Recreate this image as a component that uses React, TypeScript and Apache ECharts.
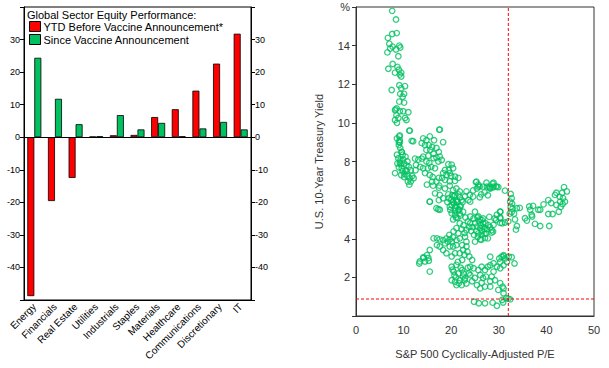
import React, { useEffect, useRef } from "react";
import * as echarts from "echarts";

const sectors = ["Energy", "Financials", "Real Estate", "Utilities", "Industrials", "Staples", "Materials", "Healthcare", "Communications", "Discretionary", "IT"];
const ytdBefore = [-48.8, -19.6, -12.5, 0.2, 0.6, 0.7, 6.2, 8.6, 14.3, 22.6, 31.8];
const sinceVaccine = [24.4, 11.8, 4.0, 0.3, 6.8, 2.4, 4.4, 0.3, 2.7, 4.7, 2.4];
const barTicks = [-50, 40];
const capeNow = 32;
const yieldNow = 0.88;

const capeYield: number[][] = [
  [7.6, 15.8], [8.4, 15.35], [6.7, 14.4], [7.6, 14.6], [8.55, 14.65], [7.0, 14.1], [7.7, 13.95], [7.2, 13.85], [6.6, 13.65],
  [9.1, 14.0], [9.3, 13.9], [8.4, 13.8], [8.9, 13.45], [6.8, 12.8], [7.7, 13.05], [8.7, 12.9], [9.0, 12.75], [9.2, 12.5],
  [9.5, 12.6], [8.2, 12.6], [9.5, 12.4], [7.5, 11.7], [9.1, 11.95], [9.5, 11.8], [10.3, 11.9], [9.3, 11.5], [10.1, 11.5],
  [9.8, 11.35], [9.1, 11.1], [10.1, 11.05], [8.55, 10.75], [8.3, 10.7], [8.2, 10.65], [9.2, 10.6], [9.9, 10.6], [11.0, 10.55],
  [8.5, 10.4], [8.2, 10.15], [8.9, 10.25], [10.3, 10.25], [10.6, 10.15], [8.6, 10.0], [11.3, 9.6], [9.2, 9.35], [8.6, 9.2],
  [9.2, 9.0], [12.0, 9.05], [17.5, 9.65], [9.0, 8.85], [9.3, 8.7], [9.6, 8.5],
  [11.2, 9.6], [17.6, 9.65], [9.1, 9.3], [9.2, 9.1], [9.0, 9.0], [11.7, 9.07], [14.1, 9.2], [14.8, 9.1], [15.5, 9.3], [16.4, 9.1],
  [18.3, 9.0], [13.8, 8.95], [14.5, 8.85], [15.3, 8.85], [16.0, 8.75], [16.9, 8.7], [17.4, 8.5], [15.6, 8.6], [14.8, 8.6],
  [16.3, 8.4], [16.9, 8.2], [17.6, 8.25], [18.0, 8.08], [17.3, 8.0], [16.3, 8.17], [15.2, 8.3], [14.1, 8.25], [13.8, 8.15],
  [13.1, 8.1], [14.8, 8.0], [15.4, 7.93], [15.8, 7.72], [16.6, 7.65], [15.1, 7.65], [14.1, 7.65], [13.5, 7.72], [12.4, 8.15],
  [12.6, 7.82], [19.4, 7.86], [20.1, 7.84], [20.4, 7.65], [19.5, 7.55], [18.7, 7.56], [18.3, 7.4], [19.0, 7.3], [19.7, 7.4],
  [20.0, 7.25], [20.8, 7.22], [21.5, 7.15], [20.8, 7.0], [19.7, 6.98], [18.7, 7.05], [18.1, 7.15], [17.4, 7.15], [15.5, 7.3],
  [14.5, 7.4], [16.1, 7.2], [16.9, 6.96], [16.0, 6.96], [14.9, 6.8], [16.2, 6.75], [17.5, 6.75], [18.7, 6.6], [19.7, 6.75],
  [20.4, 6.52], [21.1, 6.6], [21.8, 6.45], [19.4, 6.3], [20.2, 6.25], [20.8, 6.25], [21.1, 6.0], [21.8, 6.15], [22.2, 6.0],
  [20.4, 5.9], [20.1, 5.75], [21.1, 5.7], [21.5, 5.5], [20.8, 5.45], [21.8, 5.3], [17.4, 6.65], [16.6, 6.35], [17.6, 6.27],
  [18.3, 6.1], [17.4, 6.0], [15.5, 5.92], [16.9, 5.58], [17.6, 5.5], [23.2, 6.45], [23.9, 6.27], [22.9, 6.2], [23.6, 6.0],
  [24.6, 6.18], [25.2, 6.93], [25.7, 6.8], [25.4, 6.6], [26.0, 6.7], [27.5, 6.7], [28.2, 6.6], [28.9, 6.7], [29.6, 6.7],
  [26.3, 6.3], [27.0, 6.4], [27.7, 6.25], [26.0, 6.15], [8.2, 7.4], [8.9, 8.17], [9.6, 8.5], [9.8, 8.35], [10.4, 8.25],
  [10.8, 8.0], [10.1, 7.9], [9.4, 7.85], [11.1, 7.72], [11.5, 7.55], [10.4, 7.55], [9.8, 7.5], [9.0, 7.7], [11.8, 7.25],
  [10.8, 7.25], [11.3, 7.13], [10.1, 7.2], [9.5, 7.3], [11.5, 6.96], [12.1, 7.13], [12.5, 7.55], [8.7, 7.9], [8.6, 8.35],
  [10.9, 6.96], [11.2, 6.8], [9.3, 8.05], [9.9, 8.1], [10.6, 7.8], [9.6, 7.65], [10.2, 7.35], [9.2, 7.95], [10.7, 7.5],
  [15.5, 5.92], [17.3, 5.53], [19.7, 5.66], [20.6, 5.83], [21.3, 5.92], [21.8, 5.66], [20.1, 5.32], [20.8, 5.24], [21.3, 5.08],
  [21.8, 4.8], [21.1, 4.55], [22.2, 4.5], [21.5, 4.28], [20.5, 4.38], [19.6, 4.2], [24.0, 5.92], [25.0, 5.4], [24.0, 5.15],
  [24.7, 5.05], [25.7, 5.15], [26.4, 4.97], [26.7, 4.8], [26.1, 4.55], [25.4, 4.63], [27.0, 4.5], [25.7, 4.28], [26.4, 4.2],
  [27.1, 4.03], [26.1, 3.97], [25.0, 3.85], [27.3, 4.28], [27.7, 4.02], [28.5, 4.45], [28.2, 4.6], [28.9, 4.72], [29.4, 4.97],
  [30.3, 5.06], [30.3, 5.4], [29.6, 5.24], [30.7, 4.8], [22.9, 4.1], [23.2, 3.85], [22.3, 3.67], [23.2, 3.6], [22.5, 3.42],
  [21.8, 3.25], [22.8, 3.17], [23.4, 3.33], [23.8, 3.08], [24.4, 2.9], [22.3, 2.9], [16.3, 4.02], [17.0, 4.02], [17.6, 3.97],
  [18.3, 3.93], [19.0, 4.02], [19.7, 3.97], [20.4, 4.08], [21.1, 3.93], [21.8, 4.02], [19.3, 3.85], [20.1, 3.85], [18.7, 3.76],
  [17.6, 3.6], [17.0, 3.67], [18.3, 3.42], [19.7, 3.6], [20.4, 3.6], [21.1, 3.67], [20.8, 3.25], [20.1, 3.08], [19.0, 3.25],
  [15.5, 3.42], [15.2, 3.0], [14.9, 3.15], [14.1, 3.0], [14.5, 2.82], [13.4, 2.82], [13.3, 2.72], [15.3, 2.86], [15.5, 2.3],
  [14.2, 3.04], [20.1, 2.55], [21.1, 2.65], [20.5, 2.3], [21.5, 2.2], [22.3, 2.38], [22.5, 2.04], [21.8, 1.85], [20.8, 1.77],
  [20.1, 1.85], [21.1, 1.6], [22.2, 1.6], [23.2, 1.68], [22.8, 1.85], [24.0, 2.55], [24.7, 2.47], [25.7, 2.38], [26.4, 2.55],
  [27.1, 2.38], [27.7, 2.55], [26.1, 2.12], [26.7, 1.97], [27.3, 2.04], [26.4, 1.72], [27.1, 1.52], [26.1, 1.43], [28.2, 2.63],
  [28.9, 2.73], [29.6, 2.55], [30.3, 2.8], [30.6, 3.07], [31.3, 2.98], [31.7, 2.8], [31.0, 2.63], [30.3, 2.47], [28.9, 2.3],
  [28.5, 2.04], [28.2, 1.8], [29.2, 1.85], [30.3, 1.7], [31.0, 1.43], [29.9, 1.35], [28.2, 1.52], [25.0, 1.97], [24.4, 1.8],
  [25.4, 1.6], [24.0, 2.12], [31.0, 3.1], [32.7, 3.04], [33.3, 2.72], [24.8, 0.74], [25.8, 0.66], [27.1, 0.66], [28.7, 0.69],
  [29.6, 0.53], [30.7, 0.83], [31.0, 1.18], [30.8, 1.52], [31.6, 0.92], [32.0, 0.9], [30.9, 0.7], [32.4, 0.86],
  [28.9, 6.9], [29.9, 6.67], [28.1, 6.63], [28.7, 6.65], [31.3, 6.49], [32.5, 6.32], [32.7, 6.1], [32.4, 5.92], [32.8, 5.82],
  [32.5, 5.65], [32.9, 5.57], [32.7, 5.38], [33.2, 5.3], [32.3, 5.3], [33.8, 5.58], [34.4, 5.6], [33.4, 5.0], [33.8, 4.66],
  [33.6, 4.47], [35.5, 5.06], [35.9, 4.94], [36.4, 5.67], [37.2, 5.7], [36.6, 5.5], [36.9, 5.24], [37.0, 5.15], [37.6, 4.77],
  [38.3, 5.5], [38.7, 5.5], [39.4, 5.78], [38.7, 4.66], [40.6, 4.66], [40.4, 6.0], [41.0, 5.85], [41.3, 5.28], [40.4, 5.28],
  [42.6, 5.4], [41.8, 6.27], [42.1, 6.38], [42.8, 6.17], [43.3, 6.38], [43.7, 6.67], [44.3, 6.45], [43.5, 6.1], [43.9, 5.92],
  [42.9, 5.92], [42.1, 5.75], [43.0, 5.65], [43.4, 5.8], [30.3, 5.4], [30.3, 5.1], [29.1, 5.05], [28.0, 5.13], [31.3, 4.84],
  [32.0, 4.9], [30.3, 4.82], [28.8, 4.37], [28.5, 4.32], [28.2, 3.07], [31.0, 3.15], [32.1, 3.07], [30.1, 2.98],
  [25.3, 6.96], [25.7, 6.7], [27.4, 6.9], [28.7, 6.85], [28.0, 6.7], [24.6, 6.5], [26.7, 6.7], [29.4, 6.7],
  [24.5, 4.6], [25.0, 4.8], [25.3, 4.4], [25.8, 4.9], [26.2, 4.7], [26.5, 4.4], [26.8, 4.6], [27.2, 4.8], [27.5, 4.5],
  [26.0, 5.0], [25.5, 5.1], [24.8, 4.2], [25.6, 4.1], [26.3, 3.95], [27.0, 4.25], [26.7, 5.05], [27.8, 4.7], [24.2, 4.4],
  [23.8, 4.6], [23.5, 4.9], [23.0, 5.1], [22.6, 4.7], [22.8, 4.3], [23.2, 4.45], [24.0, 4.8],
  [19.2, 5.9], [19.5, 6.1], [20.0, 6.0], [20.6, 6.2], [21.2, 5.9], [21.5, 6.3], [22.0, 5.7], [22.4, 5.9], [21.7, 5.5],
  [20.9, 5.6], [19.8, 5.5], [22.5, 5.4], [21.0, 5.1], [20.4, 5.0], [21.9, 5.2],
  [20.3, 2.4], [21.0, 2.0], [21.6, 1.7], [22.0, 2.5], [22.6, 2.2], [23.5, 2.5], [21.4, 2.8], [20.7, 2.1], [22.9, 1.95], [23.7, 2.2],
];

const RED = "#ff0000";
const GREEN = "#00c060";
const FONT = "'Liberation Sans', Arial, sans-serif";

export default function App() {
  const ref = useRef<HTMLDivElement>(null);
  useEffect(() => {
    if (!ref.current) return;
    const chart = echarts.init(ref.current, null, { renderer: "svg" });
    const hideEnds = (v: number) => (barTicks.includes(v) ? "" : String(v));
    const refLine = (data: number[][]) => ({
      type: "line",
      xAxisIndex: 1,
      yAxisIndex: 2,
      data,
      symbol: "none",
      silent: true,
      z: 3,
      color: RED,
      lineStyle: { color: RED, type: [3, 2], width: 1 },
    });
    chart.setOption({
      animation: false,
      textStyle: { fontFamily: FONT },
      grid: [
        { left: 24, top: 7, width: 227, height: 293, show: true, borderColor: "#000", borderWidth: 1 },
        { left: 356, top: 7, width: 238, height: 309, show: true, borderColor: "#333", borderWidth: 1 },
      ],
      legend: {
        orient: "vertical",
        left: 29,
        top: 21,
        padding: 0,
        itemGap: 2,
        itemWidth: 11,
        itemHeight: 10,
        icon: "rect",
        textStyle: { fontSize: 11, color: "#000", fontFamily: FONT, padding: [0, 0, 0, -2] },
        data: [
          { name: "YTD Before Vaccine Announcement*", itemStyle: { color: RED, borderColor: "#000", borderWidth: 1 } },
          { name: "Since Vaccine Announcement", itemStyle: { color: GREEN, borderColor: "#000", borderWidth: 1 } },
        ],
      },
      graphic: [
        { type: "text", left: 27, top: 9, style: { text: "Global Sector Equity Performance:", fontSize: 11, fill: "#000", fontFamily: FONT } },
      ],
      xAxis: [
        {
          type: "category",
          gridIndex: 0,
          data: sectors,
          axisLine: { onZero: false, lineStyle: { color: "#000" } },
          axisTick: { inside: true, length: 4, lineStyle: { color: "#000" } },
          axisLabel: { rotate: 45, fontSize: 10, color: "#000", margin: 5, interval: 0 },
        },
        {
          type: "value",
          gridIndex: 1,
          min: 0,
          max: 50,
          interval: 10,
          axisLine: { lineStyle: { color: "#333" } },
          axisTick: { show: false },
          splitLine: { show: false },
          axisLabel: { fontSize: 11, color: "#333", margin: 8 },
          name: "S&P 500 Cyclically-Adjusted P/E",
          nameLocation: "middle",
          nameGap: 32,
          nameTextStyle: { fontSize: 11, color: "#333" },
        },
      ],
      yAxis: [
        {
          type: "value",
          gridIndex: 0,
          min: -50,
          max: 40,
          interval: 10,
          axisLine: { show: true, lineStyle: { color: "#000" } },
          axisTick: { show: true, length: 4, lineStyle: { color: "#000" } },
          splitLine: { show: false },
          axisLabel: { fontSize: 9, color: "#000", margin: 4, formatter: hideEnds },
        },
        {
          type: "value",
          gridIndex: 0,
          position: "right",
          min: -50,
          max: 40,
          interval: 10,
          axisLine: { show: true, lineStyle: { color: "#000" } },
          axisTick: { show: true, length: 4, lineStyle: { color: "#000" } },
          splitLine: { show: false },
          axisLabel: { fontSize: 9, color: "#000", margin: 4, formatter: hideEnds },
        },
        {
          type: "value",
          gridIndex: 1,
          min: 0,
          max: 16,
          interval: 2,
          axisLine: { show: true, lineStyle: { color: "#333" } },
          axisTick: { show: true, length: 4, lineStyle: { color: "#333" } },
          splitLine: { show: false },
          axisLabel: { fontSize: 11, color: "#333", margin: 6, formatter: (v: number) => (v === 0 ? "" : v === 16 ? "%" : String(v)) },
          name: "U.S. 10-Year Treasury Yield",
          nameLocation: "middle",
          nameGap: 32,
          nameRotate: 90,
          nameTextStyle: { fontSize: 11, color: "#333" },
        },
      ],
      series: [
        {
          name: "YTD Before Vaccine Announcement*",
          type: "bar",
          xAxisIndex: 0,
          yAxisIndex: 0,
          data: ytdBefore,
          barWidth: 7,
          barGap: "0%",
          itemStyle: { color: RED, borderColor: "#000", borderWidth: 0.8 },
          markLine: {
            silent: true,
            symbol: ["none", "none"],
            label: { show: false },
            lineStyle: { color: "#000", type: "solid", width: 1 },
            data: [{ yAxis: 0 }],
          },
        },
        {
          name: "Since Vaccine Announcement",
          type: "bar",
          xAxisIndex: 0,
          yAxisIndex: 0,
          data: sinceVaccine,
          barWidth: 7,
          barGap: "0%",
          itemStyle: { color: GREEN, borderColor: "#000", borderWidth: 0.8 },
        },
        {
          type: "scatter",
          xAxisIndex: 1,
          yAxisIndex: 2,
          data: capeYield,
          symbol: "circle",
          symbolSize: 5.5,
          z: 2,
          itemStyle: { color: "rgba(255,255,255,0)", borderColor: GREEN, borderWidth: 1.3 },
        },
        refLine([[capeNow, 0], [capeNow, 16]]),
        refLine([[0, yieldNow], [50, yieldNow]]),
      ],
    });
    return () => chart.dispose();
  }, []);
  return <div ref={ref} style={{ width: 609, height: 368, position: "absolute", left: 0, top: 0, background: "#fff" }} />;
}
